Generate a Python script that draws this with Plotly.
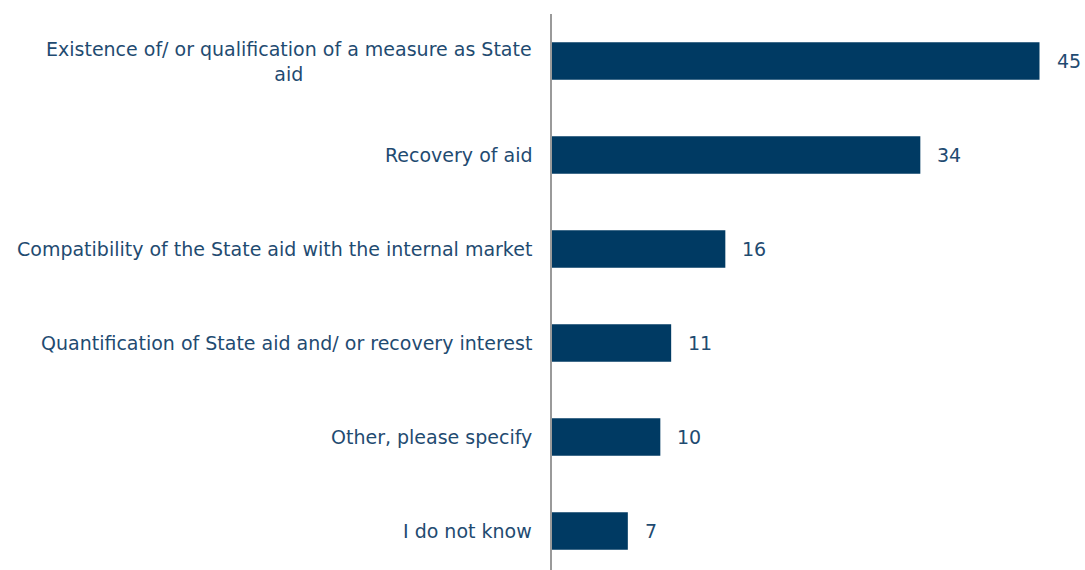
import plotly.graph_objects as go

categories = [
    "Existence of/ or qualification of a measure as State<br>aid",
    "Recovery of aid",
    "Compatibility of the State aid with the internal market",
    "Quantification of State aid and/ or recovery interest",
    "Other, please specify",
    "I do not know",
]
values = [45, 34, 16, 11, 10, 7]

bar_color = "#003A63"
text_color = "#1F4B71"
font_family = "DejaVu Sans, Verdana, sans-serif"

fig = go.Figure(
    go.Bar(
        x=values,
        y=list(range(len(categories))),
        orientation="h",
        marker=dict(color=bar_color, line=dict(width=0)),
        width=0.4,
        hoverinfo="x+y",
    )
)

# category labels to the left of the axis, centered line by line
for i, cat in enumerate(categories):
    fig.add_annotation(
        x=0, y=i, xref="x", yref="y",
        text=cat, showarrow=False,
        xanchor="right", yanchor="middle", align="center",
        xshift=-18,
        font=dict(size=19, color=text_color, family=font_family),
    )

# value labels to the right of each bar
for i, v in enumerate(values):
    fig.add_annotation(
        x=v, y=i, xref="x", yref="y",
        text=str(v), showarrow=False,
        xanchor="left", yanchor="middle",
        xshift=15,
        font=dict(size=19, color=text_color, family=font_family),
    )

fig.update_layout(
    width=1085, height=570,
    margin=dict(l=552, r=0, t=14, b=0),
    paper_bgcolor="white", plot_bgcolor="white",
    showlegend=False,
    xaxis=dict(range=[0, 49.2], visible=False, fixedrange=True),
    yaxis=dict(
        range=[5.415, -0.5],
        showticklabels=False, ticks="",
        showgrid=False, zeroline=False,
        showline=True, linecolor="#9A9A9A", linewidth=2,
        fixedrange=True,
    ),
)

fig.write_html("out.html")
